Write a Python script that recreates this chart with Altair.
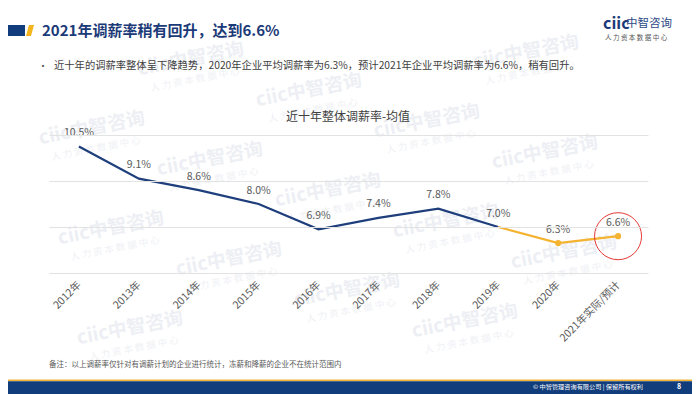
import altair as alt
import pandas as pd

# ---------------- data ----------------
years = ["2012年", "2013年", "2014年", "2015年", "2016年", "2017年",
         "2018年", "2019年", "2020年", "2021年实际/预计"]
rates = [10.5, 9.1, 8.6, 8.0, 6.9, 7.4, 7.8, 7.0, 6.3, 6.6]
split_index = 7          # 2019: the navy line ends, the orange line starts
highlight_index = 9      # 2021 circled in red
y_domain = [5, 11]
grid_values = [5, 6, 7, 8, 9, 10, 11]

slide_title = "2021年调薪率稍有回升，达到6.6%"
bullet_text = "近十年的调薪率整体呈下降趋势，2020年企业平均调薪率为6.3%，预计2021年企业平均调薪率为6.6%，稍有回升。"
chart_title = "近十年整体调薪率-均值"
footnote = "备注：以上调薪率仅针对有调薪计划的企业进行统计，冻薪和降薪的企业不在统计范围内"
footer = "© 中智管理咨询有限公司 | 保留所有权利"
page_no = "8"
logo_a = "ciic"
logo_b = "中智咨询"
logo_sub = "人 力 资 本 数 据 中 心"

# ---------------- styles ----------------
FONT = "Noto Sans CJK SC"
NAVY = "#1F3E7C"
ORANGE = "#F4B330"
BAR_NAVY = "#123D7C"
GRAY = "#595959"

W, H = 599, 138

line_rows = []
for i, (yr, v) in enumerate(zip(years, rates)):
    if i <= split_index:
        line_rows.append({"year": yr, "rate": v, "seg": "hist", "idx": i})
    if i >= split_index:
        line_rows.append({"year": yr, "rate": v, "seg": "fore", "idx": i})
line_df = pd.DataFrame(line_rows)

pts_df = pd.DataFrame({"year": years, "rate": rates,
                       "label": [f"{v:.1f}%" for v in rates],
                       "idx": list(range(len(years)))})

x_enc = alt.X("year:N", sort=years, scale=alt.Scale(type="point", padding=0.5),
              axis=alt.Axis(title=None, labelAngle=315, labelAlign="right",
                            labelBaseline="middle", labelPadding=10,
                            labelFontSize=10.5, labelColor=GRAY, labelFont=FONT,
                            ticks=False, domain=False, grid=False, zindex=2))
y_enc = alt.Y("rate:Q", scale=alt.Scale(domain=y_domain, nice=False, zero=False),
              axis=alt.Axis(title=None, values=grid_values, labels=False, ticks=False,
                            domain=False, grid=True, gridColor="#E2E2E2", gridWidth=1,
                            zindex=1))

line = alt.Chart(line_df).mark_line(strokeWidth=2.2).encode(
    x=x_enc, y=y_enc,
    color=alt.Color("seg:N", scale=alt.Scale(domain=["hist", "fore"], range=[NAVY, ORANGE]),
                    legend=None),
    order="idx:Q",
)

fore_pts = alt.Chart(pts_df.iloc[split_index + 1:]).mark_point(
    filled=True, size=38, color=ORANGE, opacity=1).encode(
    x=alt.X("year:N", sort=years), y="rate:Q")

labels = alt.Chart(pts_df).mark_text(
    dy=-13.5, fontSize=10.5, color=GRAY, font=FONT, baseline="middle", align="center").encode(
    x=alt.X("year:N", sort=years), y="rate:Q", text="label:N")

circle = alt.Chart(pts_df.iloc[[highlight_index]]).mark_point(
    shape="circle", size=2209, filled=False, stroke="#E53935", strokeWidth=1, opacity=1).encode(
    x=alt.X("year:N", sort=years), y="rate:Q")

main = alt.layer(line, fore_pts, labels, circle)

# ---------------- watermark (decoration) ----------------
wm = []
for i in range(-6, 7):
    for j in range(-3, 6):
        px = 309 + 118 * i + 19 * j
        py = 90 + 31 * i + 100 * j
        if 8 + 60 < px < 692 - 60 and 8 + 22 < py < 386 - 45:
            wm.append({"x": px - 49, "y": py - 135})
wm_df = pd.DataFrame(wm)
wm_main = alt.Chart(wm_df).mark_text(
    text="ciic中智咨询", angle=349, fontSize=19, fontWeight="bold", font=FONT,
    color="#EDEFF4", align="center", baseline="middle").encode(
    x=alt.X("x:Q", scale=None, axis=None), y=alt.Y("y:Q", scale=None, axis=None))
wm_sub = alt.Chart(wm_df).mark_text(
    text=logo_sub, angle=349, fontSize=9.5, font=FONT, dy=21,
    color="#EFF1F5", align="center", baseline="middle").encode(
    x=alt.X("x:Q", scale=None, axis=None), y=alt.Y("y:Q", scale=None, axis=None))

# ---------------- slide decorations ----------------
one = pd.DataFrame({"k": [0]})


def txt(s, x, y, **kw):
    props = dict(font=FONT, baseline="middle")
    props.update(kw)
    return alt.Chart(one).mark_text(**props).encode(
        x=alt.value(x), y=alt.value(y), text=alt.value(s))


def rect(x, x2, y, y2, color):
    return alt.Chart(one).mark_rect(color=color).encode(
        x=alt.value(x), x2=alt.value(x2), y=alt.value(y), y2=alt.value(y2))


title_bar = rect(-41, -24, -110, -99, BAR_NAVY)
slash = alt.Chart(one).mark_point(
    shape="M -0.27 -1 L 0.64 -1 L 0.09 1 L -0.82 1 Z", size=121, filled=True,
    color="#F5B31E", opacity=1).encode(x=alt.value(-18.5), y=alt.value(-104.5))
title_t = txt(slide_title, -7, -104, fontSize=15, fontWeight="bold", color="#1B3A78", align="left")

logo1 = txt(logo_a, 554, -111, fontSize=16, fontWeight="bold", color="#1B3A78", align="left")
logo2 = txt(logo_b, 577, -111, fontSize=11.5, color="#2E4A86", align="left")
logo3 = txt(logo_sub, 556, -97, fontSize=6.5, color="#555555", align="left")

bullet = txt("•", -6, -69, fontSize=9, color="#404040", align="center")
bullet_t = txt(bullet_text, 5, -69, fontSize=10.3, color="#404040", align="left")

ctitle = txt(chart_title, 299, -18, fontSize=12, color="#404040", align="center")

foot = txt(footnote, 0, 230, fontSize=7.5, color=GRAY, align="left")

bottom_line = rect(-41, 643, 244.5, 246.2, "#F2B233")
bottom_bar = rect(-41, 643, 246.2, 262, BAR_NAVY)
footer_t = txt(footer, 594, 252, fontSize=6.2, color="#FFFFFF", align="right")
page_t = txt(page_no, 630, 252, fontSize=7, fontWeight="bold", color="#FFFFFF", align="center")

chart = alt.layer(
    wm_main, wm_sub, main,
    title_bar, slash, title_t, logo1, logo2, logo3,
    bullet, bullet_t, ctitle, foot,
    bottom_line, bottom_bar, footer_t, page_t,
).resolve_scale(x="independent", y="independent").properties(
    width=W, height=H,
    autosize=alt.AutoSizeParams(type="none"),
    padding={"left": 41, "top": 127, "right": 44, "bottom": 121},
    background="white",
).configure_view(stroke=None)

chart.save("out.html", embed_options={"renderer": "svg", "actions": False})
